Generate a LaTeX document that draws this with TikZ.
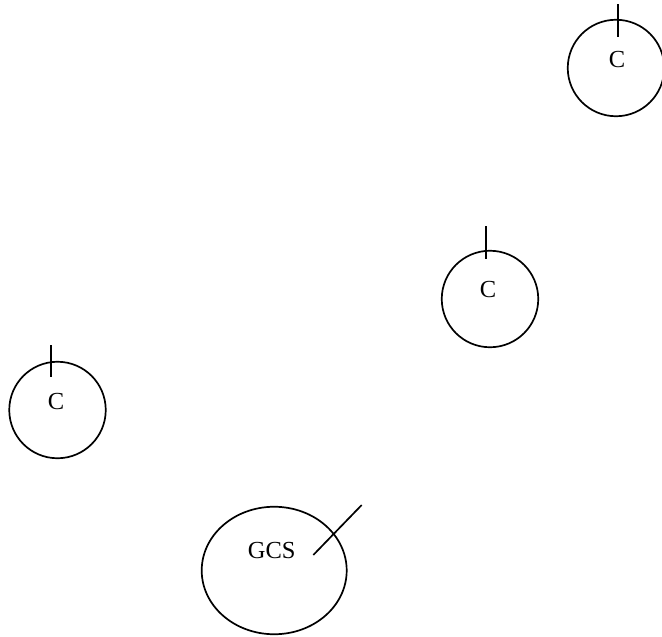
\documentclass[tikz,border=0pt]{standalone}
\usepackage{fontspec}
\setmainfont{Liberation Serif}
\usetikzlibrary{shapes.geometric}
\tikzset{
  comp/.style={circle, draw, line width=1.7pt, minimum size=96.5pt, inner sep=0pt},
  gcs/.style={ellipse, draw, line width=1.7pt, minimum width=145pt, minimum height=127.5pt, inner sep=0pt},
  lbl/.style={font=\fontsize{24.5}{28}\selectfont, inner sep=0pt},
  tick/.style={line width=1.7pt}
}
\begin{document}
\begin{tikzpicture}[x=1pt,y=-1pt]
\useasboundingbox (0,0) rectangle (662,637);
% circles
\node[comp] (c1) at (616,68) {};
\node[comp] (c2) at (490,299) {};
\node[comp] (c3) at (57.5,410) {};
\node[gcs] (g) at (274.2,570.5) {};
% labels
\node[lbl] (t1) at (617,60) {C};
\node[lbl] (t2) at (488,290) {C};
\node[lbl] (t3) at (56,401.5) {C};
\node[lbl] (tg) at (271.7,551) {GCS};
% ticks
\coordinate (a1) at (617.7,4);
\coordinate (b1) at (617.7,36.7);
\coordinate (a2) at (486,226);
\coordinate (b2) at (486,259.3);
\coordinate (a3) at (50.7,345);
\coordinate (b3) at (50.7,377.3);
\coordinate (ag) at (313.3,555);
\coordinate (bg) at (361.7,505);
\draw[tick] (a1) -- (b1);
\draw[tick] (a2) -- (b2);
\draw[tick] (a3) -- (b3);
\draw[tick] (ag) -- (bg);
\end{tikzpicture}
\end{document}
